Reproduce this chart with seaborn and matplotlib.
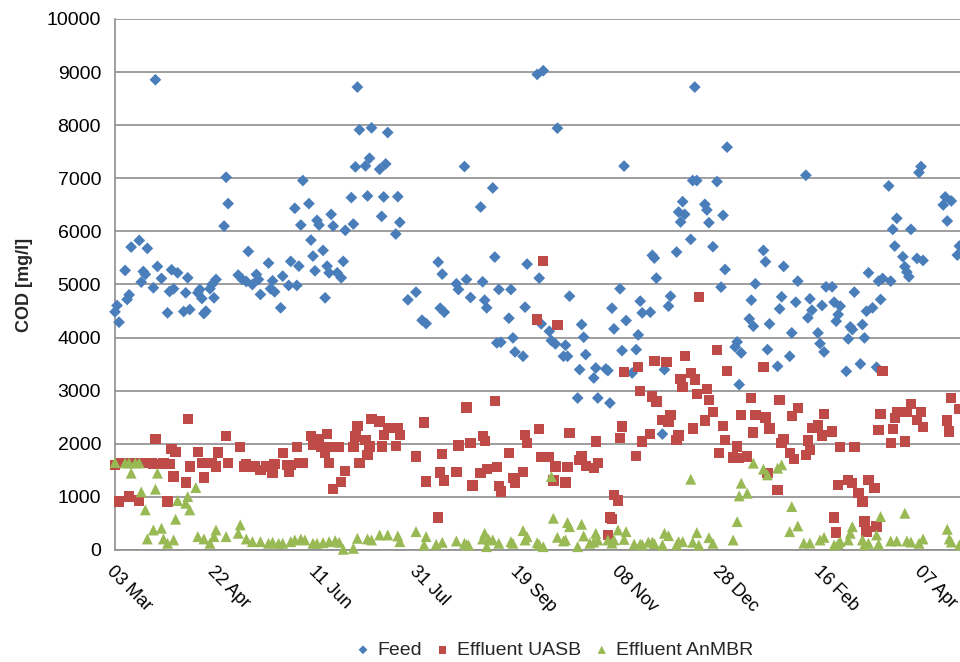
import pandas as pd
import numpy as np
import matplotlib
matplotlib.use('Agg')
import matplotlib.pyplot as plt
import matplotlib.dates as mdates
import seaborn as sns

# start of the measurement campaign (day 0)
start = pd.Timestamp('2010-03-03')

# Feed
feed_day = [0, 1, 2, 5, 6, 7, 8, 12, 13, 14, 15, 16, 19, 20, 21, 23, 26, 27, 28, 29, 31, 34, 35, 36, 37,
            41, 42, 43, 44, 45, 47, 48, 49, 50, 54, 55, 56, 61, 63, 65, 66, 68, 70, 71, 72, 76, 77, 78, 79,
            82, 83, 86, 87, 89, 90, 91, 92, 93, 96, 97, 98, 99, 100, 101, 103, 104, 105, 106, 107, 108,
            110, 112, 113, 114, 117, 118, 119, 120, 121, 124, 125, 126, 127, 131, 132, 133, 134, 135, 139,
            140, 141, 145, 149, 152, 154, 160, 161, 162, 163,
            169, 170, 173, 174, 176, 181, 182, 183, 184, 187, 188, 189, 190, 191, 195, 196, 197, 198, 202,
            203, 204, 209, 210, 211, 212, 215, 216, 218, 219, 222, 223, 224, 225, 229, 230, 231, 232, 233,
            237, 238, 239, 243, 244, 245, 246, 247, 250, 251,
            252, 253, 256, 258, 259, 260, 261, 265, 266, 267, 268, 271, 272, 274, 275, 278, 279, 280, 281,
            282, 285, 286, 287, 288, 292, 293, 294, 296, 298, 300, 301, 302, 303, 307, 308, 309, 310, 314,
            315, 316, 317, 321, 322, 323, 324, 328, 329, 330, 331, 334, 335,
            337, 338, 342, 343, 344, 345, 348, 349, 350, 351, 352, 355, 356, 357, 358, 359, 362, 363, 364,
            365, 366, 369, 370, 371, 372, 373, 375, 377, 378, 379, 380, 383, 384, 385, 386, 387, 390, 391,
            392, 393, 394, 397, 398, 399, 400, 410, 411, 412, 414, 417, 418]
feed_cod = [4485, 4604, 4290, 5265, 4718, 4806, 5705, 5830, 5045, 5245, 5190, 5680, 4938, 8856, 5340, 5114,
            4466, 4868, 5277, 4919, 5220, 4491, 4843, 5126, 4529,
            4843, 4906, 4736, 4453, 4497, 4919, 5000, 4749, 5095, 6100, 7020, 6523, 5177, 5095, 5057, 5623,
            5000, 5189, 5095, 4812, 5403, 4919, 5070, 4862,
            4560, 5158, 4982, 5435, 6435, 4982, 5346, 6120, 6957, 6523, 5837, 5535, 5258, 6208, 6120, 5642,
            4749, 5346, 5220, 6321, 6101,
            5220, 5126, 5435, 6020, 6636, 6139, 7215, 8718, 7913, 7233, 6667, 7378, 7950, 7170, 6283, 6649,
            7271, 7862, 5950,
            6655, 6170, 4711, 4856, 4327, 4265, 5422, 4554, 5196, 4478,
            5013, 4906, 7221, 5095, 4755, 6460, 5051, 4705, 4560, 6818, 5516, 3900, 4906, 3912, 4365, 4906,
            3994, 3730, 3648,
            4573, 5384, 8957, 5120, 4258, 9026, 4120, 3944, 3881, 7944, 3648, 3856, 3648, 4780, 2862, 3397,
            4246, 4007, 3680,
            3239, 3428, 2862, 3409, 3378, 2768, 4554, 4164, 4919, 3755,
            7230, 4321, 3334, 3774, 4051, 4686, 4466, 4478, 5548, 5497, 5120, 2183, 3397, 4592, 4780, 5611,
            6365, 6177, 6560,
            6321, 5850, 6957, 8718, 6957, 6510, 6403, 6164, 5711, 6938, 4950, 6302, 5283, 7586, 3824, 3919,
            3114, 3711, 4353,
            4705, 4214, 5013, 5642, 5428, 3774, 4258, 3460, 4541, 4768, 5340, 3648, 4089,
            4667, 5063, 7057, 4372, 4730, 4516, 4089, 3887, 4604, 3730, 4956, 4956, 4667, 4309, 4434, 4592,
            3365, 3975, 4202,
            4151, 4856, 3504, 4246, 3994, 4497, 5220, 4560, 3441, 5063, 4718, 5114, 6856, 5063, 6038, 5724,
            6246, 5523, 5334,
            5233, 5145, 6038, 5491, 7108, 7221, 5453, 6498, 6649, 6196, 6573, 5554, 5724]

# Effluent UASB
uasb_day = [0, 2, 3, 6, 7, 8, 10, 12, 13, 15, 18, 19, 20, 22, 24, 26, 27, 28, 29, 30, 35, 36, 37, 41, 43,
            44, 48, 50, 51, 55, 56, 62, 64, 65, 69, 72, 75, 78, 79, 83,
            85, 86, 87, 90, 91, 93, 97, 98, 101, 102, 104, 105, 106, 107, 108, 111, 112, 114, 118, 119, 120,
            121, 124, 125, 126, 127, 131, 132, 133, 135, 139, 140, 141, 149, 153, 154, 160, 161, 162, 163,
            169, 170, 174, 176, 177, 181, 182, 183, 184, 188, 189, 190, 191, 195, 197, 198, 202, 203, 204,
            209, 210, 211, 212, 215, 217, 218, 219, 223, 224, 225, 230, 231, 233, 237, 238, 239, 244, 245,
            246, 247, 249, 250, 251, 252,
            258, 259, 260, 261, 265, 266, 267, 268, 271, 273, 274, 275, 278, 279, 280, 281, 282, 285, 286,
            287, 288, 289, 292, 293, 294, 296, 298, 299, 301, 302, 303, 306, 308, 309, 310, 313, 315, 316,
            317, 321, 322, 323, 324, 328, 329, 330, 331, 334, 335,
            336, 338, 342, 343, 344, 345, 348, 350, 351, 355, 356, 357, 358, 359, 363, 365, 366, 368, 370,
            371, 372, 373, 376, 377, 378, 379, 380, 384, 385, 386, 387, 391, 392, 394, 397, 399, 400, 412,
            413, 414, 418]
uasb_cod = [1604, 912, 1640, 1640, 1006, 1640, 1640, 930, 1640, 1640, 1640, 1620, 2088, 1620, 1640, 912,
            1623, 1906, 1384, 1843, 1270, 2466, 1572, 1843, 1635,
            1365, 1635, 1572, 1837, 2151, 1635, 1937, 1572, 1623, 1572, 1510, 1572, 1459, 1623, 1824,
            1604, 1478, 1604, 1937, 1635, 1635, 2151, 1981, 2088, 1937, 1837, 2189, 1635, 1937, 1151, 1937,
            1283, 1491, 1937, 2139, 2340,
            1635, 2076, 1793, 1950, 2466, 2422, 1950, 2170, 2296, 1962, 2296, 2170, 1761, 2403, 1289, 610,
            1459, 1812, 1308,
            1466, 1969, 2686, 2013, 1214, 1447, 2151, 2057, 1522, 2812, 1560, 1208, 1101, 1824, 1352, 1271,
            1466, 2170, 2013,
            4340, 2277, 1749, 5441, 1749, 1308, 1572, 4233, 1271, 1560, 2202, 1698, 1774, 1585, 1541, 2044,
            1635, 283, 610,
            579, 1038, 931, 2107, 2327, 3352,
            1774, 3447, 2988, 2044, 2189, 2893, 3554, 2799, 2453, 3535, 2422, 2547, 2076, 2157, 3226, 3070,
            3648, 3334, 2290,
            3208, 2944, 4768, 2441, 3032, 2831, 2598, 3761, 1824, 2334, 2076, 3365, 1742, 1950, 1730, 2547,
            1761, 2862, 2214,
            2547, 3447, 2497, 1447, 2290, 1132, 2831, 2013, 2088, 1824, 2529,
            1717, 2673, 1793, 2063, 1887, 2296, 2346, 2157, 2560, 2233, 610, 327, 1227, 1937, 1321, 1258,
            1937, 1069, 912,
            535, 346, 1321, 1164, 440, 2264, 2560, 3365, 2013, 2277, 2485, 2598, 2044, 2598, 2755, 2453,
            2598, 2315, 2440,
            2233, 2862, 2654]

# Effluent AnMBR
anmbr_day = [0, 5, 7, 8, 10, 12, 13, 15, 16, 19, 20, 21, 23, 24, 26, 29, 30, 31, 35, 36, 37, 40, 41, 44,
             47, 49, 50, 55, 61, 62, 65, 68, 72, 76, 78, 81,
             83, 87, 89, 92, 94, 98, 100, 103, 106, 109, 111, 113, 118, 120, 125, 127, 131, 135, 140, 141,
             149, 153, 154, 159, 162,
             169, 173, 174, 175, 182, 183, 184, 185, 187, 190, 196, 197, 202, 203, 204, 209, 210, 212, 216,
             217, 219, 222, 223, 224, 225, 229, 231, 232, 235, 237, 238, 239, 244, 246, 247, 249, 252,
             253, 257, 260, 261, 264, 266, 267, 271, 272, 274, 278, 279, 281, 285, 286, 288, 289, 294, 296,
             306, 308, 309, 310, 313, 316, 321, 323, 328, 330, 334, 335,
             338, 341, 344, 349, 351, 356, 358, 359, 363, 364, 365, 370, 371, 373, 377, 378, 379, 384, 387,
             391, 392, 394, 398, 400, 412, 413, 414, 418]
anmbr_cod = [1648, 1640, 1640, 1447, 1640, 1640, 1094, 755, 208, 377, 1145, 1447, 409, 208, 126, 189, 579,
             931, 880, 1006, 755, 1176, 252, 208,
             126, 252, 377, 252, 315, 472, 208, 157, 157, 126, 145, 126,
             126, 157, 189, 208, 189, 126, 126, 138, 157, 176, 145, 13, 31, 220, 208, 189, 283, 283, 264, 157,
             346, 94, 252, 107, 145,
             170, 126, 100, 94, 208, 315, 63, 200, 189, 126, 157, 126, 365, 189, 250, 138, 100, 63, 1384,
             598, 239, 170, 189, 516, 440, 63, 484, 264, 126, 150, 315, 189, 189, 130, 189, 377, 200,
             346, 110, 110, 100, 150, 150, 120, 94, 315, 270, 100, 157, 157, 1333, 145, 327, 94, 233, 126,
             189, 535, 1019, 1258, 1069, 1635, 1522, 1415, 1541, 1604, 346, 818,
             453, 130, 130, 189, 239, 94, 120, 157, 189, 315, 440, 189, 100, 126, 283, 110, 629, 170, 170,
             692, 170, 150, 126, 208, 390, 208, 150, 94]

series_names = ['Feed', 'Effluent UASB', 'Effluent AnMBR']
series_colors = ['#4A7EBB', '#BE4B48', '#98B954']
series_markers = ['D', 's', '^']
series_sizes = [36, 55, 62]

sns.set_theme(style='white')
plt.rcParams['font.family'] = ['Liberation Sans', 'DejaVu Sans']

frames = []
for name, days, cod in zip(series_names,
                           [feed_day, uasb_day, anmbr_day],
                           [feed_cod, uasb_cod, anmbr_cod]):
    frames.append(pd.DataFrame({
        'date': start + pd.to_timedelta(np.array(days), unit='D'),
        'COD': cod,
        'series': name,
    }))
df = pd.concat(frames, ignore_index=True)

fig = plt.figure(figsize=(9.6, 6.62), dpi=100)
ax = fig.add_axes([0.1198, 0.1692, 0.8802, 0.8021])

for name, col, mk, sz in zip(series_names, series_colors, series_markers, series_sizes):
    sns.scatterplot(data=df[df['series'] == name], x='date', y='COD', color=col,
                    marker=mk, s=sz, edgecolor='none', linewidth=0, label=name,
                    legend=False, ax=ax, clip_on=False, zorder=3)

# axes
ax.set_xlim(start, start + pd.Timedelta(days=418.3))
ax.set_ylim(0, 10000)
ax.set_yticks(range(0, 10001, 1000))
ax.set_xticks(pd.date_range(start, periods=9, freq='50D'))
ax.xaxis.set_major_formatter(mdates.DateFormatter('%d %b'))
ax.set_axisbelow(True)
ax.yaxis.grid(True, color='#8E8E8E', linewidth=1.2)
ax.xaxis.grid(False)
for side in ['top', 'right']:
    ax.spines[side].set_visible(False)
for side in ['left', 'bottom']:
    ax.spines[side].set_color('#8E8E8E')
    ax.spines[side].set_linewidth(1.2)

ax.tick_params(axis='both', direction='out', length=5, width=1.2, color='#8E8E8E',
               labelcolor='black')
ax.tick_params(axis='y', labelsize=14, pad=5)
ax.tick_params(axis='x', labelsize=13, pad=4)
for lab in ax.get_xticklabels():
    lab.set_rotation(-45)
    lab.set_ha('left')
    lab.set_va('top')
    lab.set_rotation_mode('anchor')

ax.set_xlabel('')
ax.set_ylabel('COD [mg/l]', fontsize=13, fontweight='bold', labelpad=10)

handles, labels = ax.get_legend_handles_labels()
fig.legend(handles, labels, loc='center', bbox_to_anchor=(0.578, 0.018), ncol=3,
           frameon=False, fontsize=14, handlelength=0.7, handletextpad=0.4,
           columnspacing=0.7, markerscale=0.75)

fig.savefig('out.png', dpi=100)
